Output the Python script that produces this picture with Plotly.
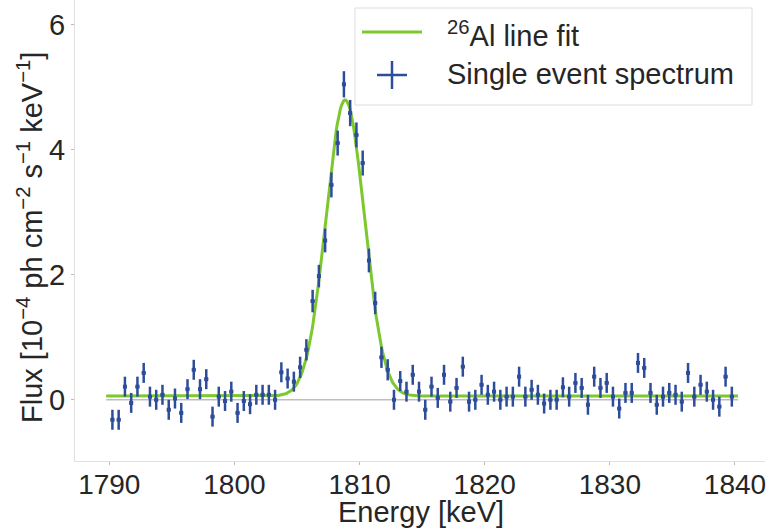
import numpy as np
import plotly.graph_objects as go

# ---------------- data ----------------
bin_start_keV = 1790.25
bin_width_keV = 0.5
flux = [
    -0.32, -0.32, 0.21, -0.05, 0.21, 0.43, 0.05, 0.00, 0.08, -0.16,
    0.02, -0.21, 0.17, 0.48, 0.17, 0.33, -0.27, 0.05, -0.02, 0.13,
    -0.21, -0.02, -0.07, 0.08, 0.08, 0.08, 0.00, 0.44, 0.34, 0.29,
    0.52, 0.80, 1.58, 1.98, 2.55, 3.44, 4.11, 5.05, 4.59, 4.24,
    3.79, 2.23, 1.55, 0.68, 0.48, 0.00, 0.30, 0.13, 0.40, 0.13,
    -0.16, 0.21, 0.03, 0.40, -0.03, 0.19, 0.53, -0.03, 0.00, 0.24,
    0.08, 0.13, 0.00, 0.05, 0.05, 0.37, 0.05, 0.16, 0.08, -0.06,
    0.00, 0.00, 0.20, 0.05, 0.27, 0.19, -0.08, 0.37, 0.19, 0.27,
    0.05, -0.14, 0.11, 0.11, 0.59, 0.51, 0.11, -0.08, 0.05, 0.11,
    0.08, -0.03, 0.43, 0.05, 0.24, 0.13, 0.00, -0.11, 0.37, 0.05,
]
flux_err = (
    [0.16] * 30
    + [0.17, 0.17, 0.18, 0.18, 0.19, 0.20, 0.20, 0.21, 0.21, 0.20,
       0.20, 0.19, 0.18, 0.17, 0.17]
    + [0.16] * 55
)
energy_keV = [bin_start_keV + bin_width_keV * i for i in range(len(flux))]
energy_half_err = 0.15

# Gaussian line-fit parameters
fit_center = 1808.85
fit_sigma = 1.53
fit_amplitude = 4.74
fit_baseline = 0.06
fit_range = (1789.75, 1840.25)

x_ticks = [1790, 1800, 1810, 1820, 1830, 1840]
y_ticks = [0, 2, 4, 6]
x_range = [1787.26, 1842.4]
y_range = [-0.98, 6.4]

# ---------------- figure ----------------
W, H = 769, 531
L, R, T, B = 75, 765, 0, 461  # plot-area pixel box
FONT = "Liberation Sans, Arial, Helvetica, sans-serif"
FS = 29
TXT = "#262626"
BLUE = "#2d4c9a"
GREEN = "#7cc82e"

fit_x = np.linspace(fit_range[0], fit_range[1], 600)
fit_y = fit_baseline + fit_amplitude * np.exp(-0.5 * ((fit_x - fit_center) / fit_sigma) ** 2)

fig = go.Figure()

# grey zero line
fig.add_trace(go.Scatter(
    x=list(fit_range), y=[0, 0], mode="lines",
    line=dict(color="#bdbdbd", width=1.5), hoverinfo="skip", showlegend=False,
))

# fit
fig.add_trace(go.Scatter(
    x=fit_x, y=fit_y, mode="lines", name="26Al line fit",
    line=dict(color=GREEN, width=3), showlegend=False,
))

# spectrum
fig.add_trace(go.Scatter(
    x=energy_keV, y=flux, mode="markers", name="Single event spectrum",
    marker=dict(color=BLUE, size=4, symbol="square"),
    error_y=dict(type="data", array=flux_err, color=BLUE, thickness=2.5, width=0),
    error_x=dict(type="constant", value=energy_half_err, color=BLUE, thickness=2.5, width=0),
    showlegend=False,
))

pw, ph = R - L, B - T


def px(xp):
    return (xp - L) / pw


def py(yp):
    return (B - yp) / ph


shapes = [
    dict(type="rect", xref="paper", yref="paper",
         x0=px(355), x1=px(752), y0=py(105), y1=py(8),
         line=dict(color="#dddddd", width=1), fillcolor="rgba(255,255,255,0.8)",
         layer="above"),
    dict(type="line", xref="paper", yref="paper",
         x0=px(362), x1=px(422), y0=py(32), y1=py(32),
         line=dict(color=GREEN, width=3), layer="above"),
    dict(type="line", xref="paper", yref="paper",
         x0=px(377), x1=px(407), y0=py(75), y1=py(75),
         line=dict(color=BLUE, width=2.5), layer="above"),
    dict(type="line", xref="paper", yref="paper",
         x0=px(392), x1=px(392), y0=py(61), y1=py(89),
         line=dict(color=BLUE, width=2.5), layer="above"),
]

annotations = [
    dict(text="<sup>26</sup>Al line fit", xref="paper", yref="paper",
         x=px(445), y=py(34), xanchor="left", yanchor="middle", showarrow=False,
         font=dict(family=FONT, size=FS, color=TXT)),
    dict(text="Single event spectrum", xref="paper", yref="paper",
         x=px(445), y=py(74), xanchor="left", yanchor="middle", showarrow=False,
         font=dict(family=FONT, size=FS, color=TXT)),
    dict(text="Flux [10<sup>−4</sup> ph cm<sup>−2</sup> s<sup>−1</sup> keV<sup>−1</sup>]",
         xref="paper", yref="paper", x=px(30), y=py(238),
         xanchor="center", yanchor="middle", textangle=-90, showarrow=False,
         font=dict(family=FONT, size=FS, color=TXT)),
    dict(text="Energy [keV]", xref="paper", yref="paper", x=px(421), y=py(512),
         xanchor="center", yanchor="middle", showarrow=False, borderpad=0,
         font=dict(family=FONT, size=FS, color=TXT)),
]

fig.update_layout(
    width=W, height=H,
    margin=dict(l=L, r=W - R, t=T, b=H - B, pad=0),
    paper_bgcolor="white", plot_bgcolor="white",
    font=dict(family=FONT, size=FS, color=TXT),
    shapes=shapes, annotations=annotations,
    xaxis=dict(
        range=x_range, tickvals=x_ticks, ticktext=[str(v) for v in x_ticks],
        showgrid=False, zeroline=False,
        showline=True, linecolor="#e0e0e0", linewidth=1,
        ticks="outside", ticklen=3, tickcolor="#bbbbbb", tickwidth=1,
        ticklabelstandoff=-5,
        tickfont=dict(family=FONT, size=28, color=TXT),
    ),
    yaxis=dict(
        range=y_range, tickvals=y_ticks, ticktext=[str(v) for v in y_ticks],
        showgrid=False, zeroline=False,
        showline=True, linecolor="#e0e0e0", linewidth=1,
        ticks="outside", ticklen=3, tickcolor="#bbbbbb", tickwidth=1,
        tickfont=dict(family=FONT, size=FS, color=TXT),
    ),
)

fig.write_html("out.html")
